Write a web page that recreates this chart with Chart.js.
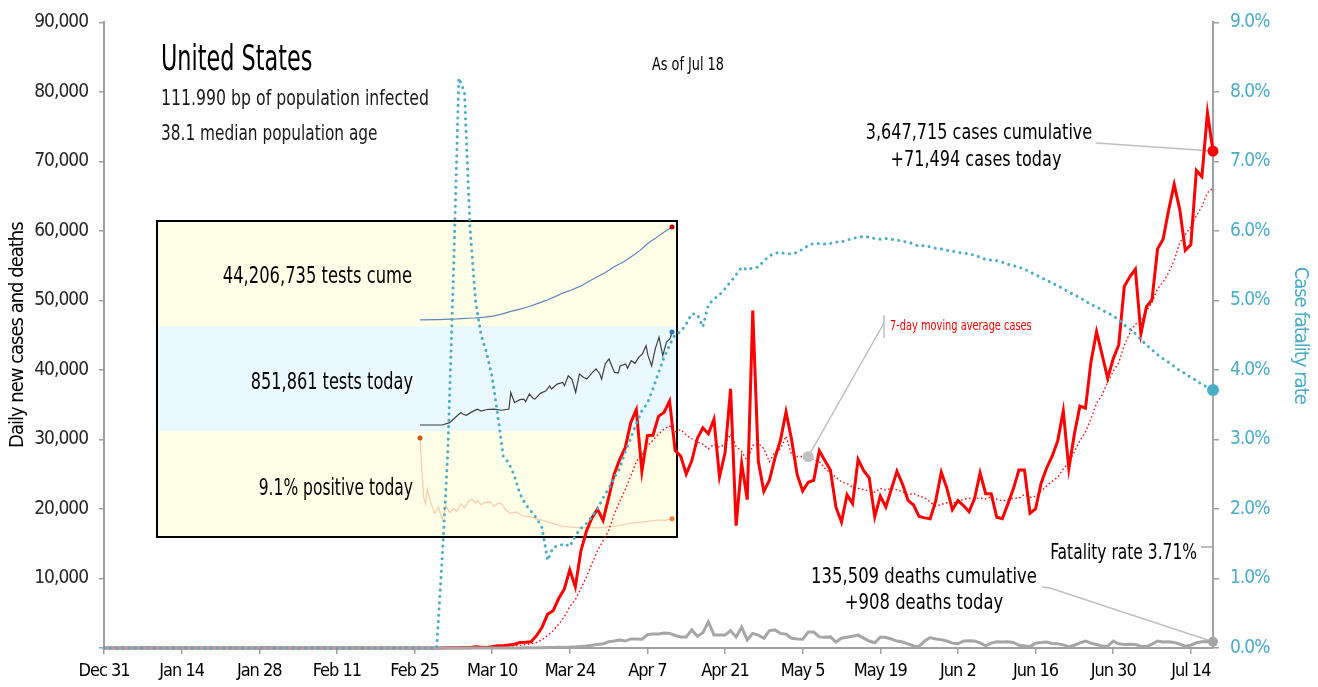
<!DOCTYPE html>
<html><head><meta charset="utf-8">
<script src="https://cdn.jsdelivr.net/npm/chart.js@4/dist/chart.umd.min.js"></script>
<style>
html,body{margin:0;padding:0;background:#fff;}
#wrap{position:relative;width:1318px;height:687px;overflow:hidden;}
.abs{position:absolute;}
</style></head><body>
<div id="wrap">
 <div class="abs" style="left:157px;top:221px;width:520px;height:105px;background:#FFFEE6"></div>
 <div class="abs" style="left:157px;top:326px;width:520px;height:105px;background:#EAF9FF"></div>
 <div class="abs" style="left:157px;top:431px;width:520px;height:106px;background:#FFFEE6"></div>
 <canvas id="inCume" class="abs" style="left:157px;top:221px" width="520" height="105"></canvas>
 <canvas id="inToday" class="abs" style="left:157px;top:326px" width="520" height="105"></canvas>
 <canvas id="inPos" class="abs" style="left:157px;top:431px" width="520" height="106"></canvas>
 <div class="abs" style="left:156px;top:220px;width:522px;height:318px;border:2px solid #000;box-sizing:border-box"></div>
 <canvas id="main" class="abs" style="left:0;top:0" width="1318" height="687"></canvas>
</div>
<script>
const F = "'Liberation Sans Narrow','Arial Narrow','DejaVu Sans Condensed',sans-serif";
const TEAL = '#4BACC6', RED = '#FF0000', GRAY = '#A6A6A6', AXIS = '#A0A0A0', LEAD = '#BFBFBF';

// ---- x-axis ticks (day index from Dec 31) ----
const tickDays = [0,14,28,42,56,70,84,98,112,126,140,154,168,182,196];
const tickLabels = ['Dec 31','Jan 14','Jan 28','Feb 11','Feb 25','Mar 10','Mar 24','Apr 7','Apr 21','May 5','May 19','Jun 2','Jun 16','Jun 30','Jul 14'];

// ---- daily new cases, Dec 31 .. Jul 18 ----
const cases = [
0,0,0,0,0,0,0,0,0,0, 0,0,0,0,0,0,0,0,0,0, 0,0,0,0,0,0,0,0,0,0,
0,0,0,0,0,0,0,0,0,0, 0,0,0,0,0,0,0,0,0,0, 0,0,0,0,0,0,0,0,0,0,
3,7,23,19,33,77,53,166,116,75,
187,309,329,437,550,780,820,890,1770,2990,
4840,5370,7120,8460,11240,8790,13960,16800,18700,19980,
18360,21600,25000,27100,28820,32430,34270,25400,30560,30610,
33320,33900,35530,28390,27620,25020,26920,30150,31670,30830,
32920,24600,28070,37290,17590,26540,21350,48530,26860,22540,
24130,27330,29920,33960,30000,24970,22590,23840,24130,28370,
26960,25610,20260,18120,22050,20780,27140,25510,24490,18870,
21840,20290,22880,25430,23580,21240,20570,18910,18720,18600,
21200,25300,23000,19900,21200,20500,19600,21500,25200,22200,
22200,18800,18600,20700,22900,25600,25600,19400,20000,23700,
25900,27600,29800,34100,25800,30800,34800,34500,41200,45500,
42200,38800,41600,43600,52000,53400,54500,45200,49100,50100,
57400,58800,63000,66700,63100,57200,58000,68700,67800,77000,
71494];

// ---- 7-day moving average of cases ----
const casesMA7 = [
0,0,0,0,0,0,0,0,0,0, 0,0,0,0,0,0,0,0,0,0, 0,0,0,0,0,0,0,0,0,0,
0,0,0,0,0,0,0,0,0,0, 0,0,0,0,0,0,0,0,0,0, 0,0,0,0,0,0,0,0,0,0,
0,1,5,7,12,23,31,54,70,77,
101,140,176,231,286,381,487,588,797,1177,
1806,2494,3400,4491,5970,6973,8540,10249,12153,13990,
15404,16884,19200,21077,22794,24756,26797,27803,29083,29884,
30773,31499,31941,31101,31419,30627,30100,29647,29329,28657,
29304,28873,29309,30790,28996,28263,26909,29139,29461,28671,
26791,28183,28666,30467,27820,27550,27557,27516,27059,26837,
25837,25210,24537,23899,23643,23164,22989,22781,22621,22423,
22954,22703,23003,22759,22483,22019,22261,21843,21619,21007,
20403,20649,20900,20804,21131,21386,21529,21571,21557,21443,
21771,21429,21157,21314,21514,21571,22057,21657,21829,22557,
23300,23971,24571,25786,26700,28243,29829,31057,33000,35243,
36400,38257,39800,41057,43557,45300,46586,47014,48486,49700,
51671,52643,54014,55757,58314,59471,60600,62214,63500,65500,
66185];

// ---- daily deaths ----
const deaths = [
0,0,0,0,0,0,0,0,0,0, 0,0,0,0,0,0,0,0,0,0, 0,0,0,0,0,0,0,0,0,0,
0,0,0,0,0,0,0,0,0,0, 0,0,0,0,0,0,0,0,0,0, 0,0,0,0,0,0,0,0,0,0,
0,0,0,0,0,0,0,0,0,0, 0,0,0,0,0,
10,20,25,40,50,
60,80,100,120,130,160,220,280,400,520,
600,900,1000,1150,1000,1300,1300,1250,1900,2000,
2000,2150,2100,1800,1600,1600,2600,1700,2200,3770,
1860,1860,1860,2500,1600,3000,1150,2100,1850,1400,
2500,2600,2100,2000,1400,1300,1250,2300,2300,1600,
1550,1600,850,1400,1550,1700,1860,1430,1000,750,
1570,1500,1290,1000,860,600,300,250,1000,1500,
1300,1200,1000,700,600,1000,1050,1000,750,300,
700,900,850,900,800,400,300,200,700,800,
850,650,600,450,200,400,750,1000,700,500,
300,250,1000,600,500,550,500,250,200,550,
1000,850,900,800,550,250,400,750,900,950,
908];

// ---- case fatality rate (%) ----
const fatalityRate = [
0,0,0,0,0,0,0,0,0,0, 0,0,0,0,0,0,0,0,0,0, 0,0,0,0,0,0,0,0,0,0,
0,0,0,0,0,0,0,0,0,0, 0,0,0,0,0,0,0,0,0,0, 0,0,0,0,0,0,0,0,0,0,
0,
1.3,2.8,5.3,8.2,8.0,6.05,5.0,4.5,4.25,
3.9,3.35,2.76,2.66,2.48,2.22,2.07,1.97,1.87,1.73,
1.26,1.45,1.47,1.5,1.46,1.62,1.72,1.79,1.89,2.0,
2.16,2.29,2.45,2.58,2.82,3.02,3.23,3.41,3.52,3.73,
3.96,4.18,4.36,4.51,4.55,4.66,4.81,4.80,4.62,4.94,
5.02,5.08,5.17,5.27,5.37,5.48,5.44,5.47,5.48,5.57,
5.64,5.68,5.69,5.67,5.67,5.69,5.74,5.79,5.82,5.82,
5.81,5.82,5.84,5.84,5.87,5.89,5.91,5.92,5.91,5.89,
5.88,5.89,5.88,5.87,5.85,5.84,5.81,5.78,5.79,5.77,
5.75,5.74,5.72,5.71,5.69,5.68,5.67,5.65,5.62,5.59,
5.58,5.57,5.55,5.52,5.50,5.48,5.45,5.41,5.37,5.33,
5.29,5.25,5.21,5.17,5.12,5.08,5.04,4.99,4.94,4.91,
4.86,4.82,4.78,4.72,4.65,4.59,4.52,4.44,4.36,4.29,
4.22,4.16,4.11,4.05,3.99,3.95,3.89,3.85,3.79,3.75,
3.71];

// ---- inset: testing (day index from Mar 4) ----
const testsCumeDay = [0,10,20,29,35,40,45,49,54,59,64,68,73,77,82,87,91,96,100,105,110,114,119,123,127,131,136];
const testsCume = [50000,200000,500000,950000,1400000,2000000,3000000,4100000,5200000,6400000,8000000,9300000,11100000,12800000,14400000,16200000,18300000,20700000,22600000,25400000,27700000,30100000,33200000,36500000,38800000,41300000,44206735];

const testsTodayDay = [0,12,16,18,22,23,25,28,31,33,36,40,44,48,49,51,54,56,57,59,61,62,65,68,70,71,74,77,78,80,82,84,86,88,90,93,95,97,98,100,102,104,105,107,108,111,112,114,116,118,120,122,123,125,127,129,131,133,135,136];
const testsToday = [0,0,22000,52000,114000,100000,89000,120000,145000,128000,142000,145000,135000,146000,298000,206000,232000,237000,215000,283000,245000,237000,290000,313000,359000,330000,375000,390000,360000,451000,420000,298000,467000,440000,421000,480000,513000,470000,421000,560000,605000,520000,482000,476000,540000,559000,520000,589000,565000,620000,650000,727000,640000,543000,700000,805000,635000,759000,790000,851861];

const positiveDay = [0,2,3,4,6,8,10,12,14,16,18,20,22,24,26,28,30,31,33,35,38,40,42,44,46,49,52,55,59,63,68,72,77,82,87,92,96,100,105,110,114,118,123,128,132,136];
const positiveRate = [60.6,22.7,18.6,27.8,18.6,12.5,16.6,8.4,17.6,13,15.5,14,18.6,16,20,21.7,19,20.7,18,19.5,19.7,17,19,18.6,15,12.5,13.5,11,10.4,9,7.4,6,4.3,3.8,3.3,3.5,3.3,3.8,4.3,5.4,6.3,6.8,7.4,8.3,8.0,9.1];

Chart.defaults.font.family = F;
Chart.defaults.animation = false;

const days = cases.map((_, i) => i);
const LAST = cases.length - 1;
const MA_MARK = 127;

function insetChart(id, xs, ys, yMax, pad, color, startDot, endDot) {
  const pts = ys.map((v, i) => ({x: xs[i], y: v}));
  const n = pts.length - 1;
  new Chart(document.getElementById(id), {
    type: 'line',
    data: { datasets: [{
      data: pts, borderColor: color, borderWidth: 1.2, tension: 0, clip: false,
      pointRadius: c => (c.dataIndex === n && endDot) || (c.dataIndex === 0 && startDot) ? 2.5 : 0,
      pointBackgroundColor: c => c.dataIndex === 0 ? startDot : endDot,
      pointBorderWidth: 0
    }]},
    options: {
      responsive: false, events: [],
      layout: { padding: pad },
      plugins: { legend: {display:false}, tooltip: {enabled:false} },
      scales: {
        x: { type:'linear', display:false, min:0, max:136 },
        y: { display:false, min:0, max:yMax }
      }
    }
  });
}
insetChart('inCume', testsCumeDay, testsCume, 44206735, {left:263,right:5,top:6,bottom:6}, '#5E85C0', null, '#C00000');
insetChart('inToday', testsTodayDay, testsToday, 851861, {left:263,right:5,top:6,bottom:6}, '#3F3F3F', null, '#2E75B6');
insetChart('inPos', positiveDay, positiveRate, 60.6, {left:263,right:5,top:7,bottom:0}, '#F8CBAD', '#C55A11', '#ED7D31');

// [text, x, baseline y, size, align, colour, horizontal squeeze]
const texts = [
  ['United States', 161, 70, 35, 'left', '#000', 0.71],
  ['111.990 bp of population infected', 161, 105, 22, 'left', '#1a1a1a', 0.795],
  ['38.1 median population age', 161, 140, 22, 'left', '#1a1a1a', 0.775],
  ['As of Jul 18', 688, 70, 17, 'center', '#000', 0.84],
  ['3,647,715 cases cumulative', 979, 139, 21, 'center', '#000', 0.85],
  ['+71,494 cases today', 976, 166, 21, 'center', '#000', 0.85],
  ['7-day moving average cases', 890, 330, 14, 'left', RED, 0.78],
  ['Fatality rate 3.71%', 1197, 559, 21, 'right', '#000', 0.82],
  ['135,509 deaths cumulative', 924, 583, 21, 'center', '#000', 0.87],
  ['+908 deaths today', 924, 609, 21, 'center', '#000', 0.87],
  ['44,206,735 tests cume', 412, 283, 23, 'right', '#000', 0.79],
  ['851,861 tests today', 413, 389, 23, 'right', '#000', 0.78],
  ['9.1% positive today', 413, 495, 23, 'right', '#000', 0.75]
];

const TIGHT = '-1px';
const notes = {
  id: 'notes',
  beforeUpdate(chart) { chart.ctx.letterSpacing = TIGHT; },
  beforeDraw(chart) { chart.ctx.letterSpacing = TIGHT; },
  beforeDatasetsDraw(chart) {
    const c = chart.ctx;
    const p = (ds, i) => chart.getDatasetMeta(ds).data[i];
    c.save();
    c.strokeStyle = LEAD; c.lineWidth = 1.5;
    const pc = p(0, LAST);
    c.beginPath(); c.moveTo(1096, 143); c.lineTo(pc.x, pc.y); c.stroke();
    const pm = p(1, MA_MARK);
    c.beginPath(); c.moveTo(884, 315); c.lineTo(884, 338); c.stroke();
    c.beginPath(); c.moveTo(884, 323); c.lineTo(pm.x, pm.y); c.stroke();
    const pd = p(2, LAST);
    c.beginPath(); c.moveTo(1042, 587); c.lineTo(1050, 588); c.lineTo(pd.x, pd.y); c.stroke();
    const pf = p(3, LAST);
    c.strokeStyle = '#A6A6A6';
    c.beginPath(); c.moveTo(1201, 547); c.lineTo(pf.x, 547); c.lineTo(pf.x, pf.y); c.stroke();
    c.restore();
  },
  afterDraw(chart) {
    const c = chart.ctx;
    texts.forEach(([t, x, y, s, a, col, sx]) => {
      c.save();
      c.letterSpacing = '0px';
      c.font = s + 'px ' + F; c.textAlign = a; c.textBaseline = 'alphabetic'; c.fillStyle = col;
      c.translate(x, y); c.scale(sx, 1);
      c.fillText(t, 0, 0);
      c.restore();
    });
  }
};

const lastOnly = (r, idx) => c => c.dataIndex === idx ? r : 0;

new Chart(document.getElementById('main'), {
  type: 'line',
  data: {
    labels: days,
    datasets: [
      { label:'Daily new cases', data: cases, yAxisID:'y', borderColor: RED, borderWidth: 3, tension: 0,
        pointRadius: lastOnly(5.5, LAST), pointBackgroundColor: RED, pointBorderWidth: 0, order: 4, clip: false },
      { label:'7-day moving average cases', data: casesMA7, yAxisID:'y', borderColor: RED, borderWidth: 1.4, borderDash:[1.5,2.5], tension: 0,
        pointRadius: lastOnly(5.5, MA_MARK), pointBackgroundColor: '#C0C0C0', pointBorderWidth: 0, order: 3, clip: false },
      { label:'Daily deaths', data: deaths, yAxisID:'y', borderColor: GRAY, borderWidth: 3, tension: 0,
        pointRadius: lastOnly(5, LAST), pointBackgroundColor: GRAY, pointBorderWidth: 0, order: 2, clip: false },
      { label:'Case fatality rate', data: fatalityRate, yAxisID:'y2', borderColor: TEAL, borderWidth: 3, borderDash:[0.1,6.2], borderCapStyle:'round', tension: 0,
        pointRadius: lastOnly(6, LAST), pointBackgroundColor: TEAL, pointBorderWidth: 0, order: 1, clip: false }
    ]
  },
  options: {
    responsive: false, events: [],
    layout: { padding: { top: 19, left: 0, right: 0, bottom: 0 } },
    plugins: { legend: {display:false}, tooltip: {enabled:false} },
    scales: {
      x: {
        type: 'linear', min: 0, max: 200,
        afterBuildTicks: s => { s.ticks = tickDays.map(v => ({value: v})); },
        afterFit: s => { s.height = 39; },
        ticks: { callback: v => tickLabels[tickDays.indexOf(v)], font: {size: 18}, color: '#000', padding: 7, maxRotation: 0, autoSkip: false },
        grid: { drawOnChartArea: false, drawTicks: true, tickLength: 6, color: AXIS, lineWidth: 1.5 },
        border: { color: AXIS, width: 2 }
      },
      y: {
        position: 'left', min: 0, max: 90000,
        afterFit: s => { s.width = 104; },
        ticks: { stepSize: 10000, callback: v => v === 0 ? '' : v.toLocaleString('en-US'), font: {size: 19}, color: '#262626', padding: 11 },
        grid: { drawOnChartArea: false, drawTicks: true, tickLength: 5, color: AXIS, lineWidth: 1.5 },
        border: { color: AXIS, width: 2 },
        title: { display: true, text: 'Daily new cases and deaths', font: {size: 20}, color: '#000', padding: {top: 6, bottom: 0} }
      },
      y2: {
        position: 'right', min: 0, max: 9,
        afterFit: s => { s.width = 105; },
        ticks: { stepSize: 1, callback: v => v.toFixed(1) + '%', font: {size: 19}, color: TEAL, padding: 11 },
        grid: { drawOnChartArea: false, drawTicks: true, tickLength: 6, color: AXIS, lineWidth: 1.5 },
        border: { color: AXIS, width: 2 },
        title: { display: true, text: 'Case fatality rate', font: {size: 20}, color: TEAL, padding: {top: 6, bottom: 0} }
      }
    }
  },
  plugins: [notes]
});
</script>
</body></html>
